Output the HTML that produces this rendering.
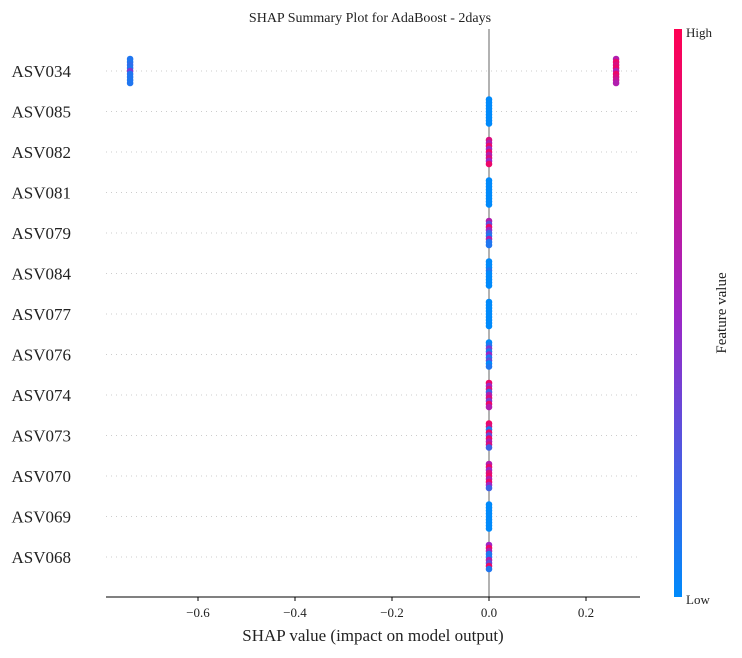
<!DOCTYPE html>
<html><head><meta charset="utf-8"><style>
body{margin:0;background:#fff;}
svg text{font-family:"Liberation Serif",serif;fill:#222;}
</style></head><body>
<svg id="chart" width="742" height="653">
<defs><linearGradient id="cg" x1="0" y1="1" x2="0" y2="0">
<stop offset="0" stop-color="#008afb"/><stop offset="0.5" stop-color="#9e26c5"/><stop offset="1" stop-color="#ff0052"/></linearGradient></defs>
<text x="370" y="22" text-anchor="middle" font-size="14">SHAP Summary Plot for AdaBoost - 2days</text>
<g id="grid"></g><g id="zero"></g><g id="pts"></g><g id="axis"></g>
<rect x="674" y="29" width="8" height="568" fill="url(#cg)"/>
<text x="686" y="37" font-size="13">High</text>
<text x="686" y="604" font-size="13">Low</text>
<text transform="translate(726,313) rotate(-90)" text-anchor="middle" font-size="15">Feature value</text>
<text x="373" y="641" text-anchor="middle" font-size="17">SHAP value (impact on model output)</text>
</svg>
<script>
const features=["ASV034","ASV085","ASV082","ASV081","ASV079","ASV084","ASV077","ASV076","ASV074","ASV073","ASV070","ASV069","ASV068"];
// each row: clusters of [shap value, feature values top-to-bottom]
const shapValues=[[-0.74,0.262],[0],[0],[0],[0],[0],[0],[0],[0],[0],[0],[0],[0]];
const featureValues=[
 [[0.1,0.1,0.15,0.1,0.4,0.1,0.1,0.1,0.1],[0.6,0.9,0.8,0.9,0.6,0.9,0.8,0.7,0.6]],
 [[0,0,0,0,0,0,0,0,0]],
 [[0.8,0.6,0.9,0.5,0.9,0.6,0.8,0.5,0.9]],
 [[0,0,0,0,0,0,0,0,0]],
 [[0.6,0.3,0.9,0.5,0.2,0.1,0.6,0.1,0.1]],
 [[0,0,0,0.1,0,0,0,0,0]],
 [[0,0,0,0,0,0,0,0,0]],
 [[0,0.1,0.4,0.1,0.5,0.1,0.3,0,0.1]],
 [[0.9,0.5,0.8,0.2,0.6,0.8,0.4,0.9,0.6]],
 [[0.9,0.8,0.1,0.9,0.3,0.9,0.6,0.8,0.2]],
 [[0.6,0.9,0.5,0.8,0.9,0.6,0.9,0.5,0.2]],
 [[0,0,0,0,0,0,0,0,0]],
 [[0.5,0.9,0.6,0.1,0.1,0.6,0.3,0.9,0.1]]
];
const xTicks=[-0.6,-0.4,-0.2,0,0.2];
const xTickLabels=["\u22120.6","\u22120.4","\u22120.2","0.0","0.2"];
const NS="http://www.w3.org/2000/svg";
const X=v=>489+v*485, Y=i=>71+i*40.5;
function col(t){const a=[0,138,251],m=[158,38,197],b=[255,0,82];let c=t<0.5?a.map((v,k)=>v+(m[k]-v)*t*2):m.map((v,k)=>v+(b[k]-v)*(t-0.5)*2);return `rgb(${c.map(Math.round)})`;}
function mk(tag,at,par){const e=document.createElementNS(NS,tag);for(const k in at)e.setAttribute(k,at[k]);document.getElementById(par).appendChild(e);return e;}
features.forEach((f,i)=>{
 let g=mk("line",{x1:106,x2:640,y1:Y(i),y2:Y(i),stroke:"#ccc","stroke-dasharray":"1,4","stroke-width":1},"grid");
 
 
 let t=mk("text",{x:71,y:Y(i)+6,"text-anchor":"end","font-size":17},"axis");t.textContent=f;
 
 
 shapValues[i].forEach((s,j)=>{
  const fv=featureValues[i][j];
  fv.forEach((v,k)=>{
   let c=mk("circle",{cx:X(s),cy:Y(i)-12+k*3,r:3.3,fill:col(v)},"pts");
   
   
  });
 });
});
let z=mk("line",{x1:X(0),x2:X(0),y1:29,y2:597,stroke:"#999","stroke-width":1.5},"zero");


let ax=mk("line",{x1:106,x2:640,y1:597,y2:597,stroke:"#000","stroke-width":1},"axis");


xTicks.forEach((v,i)=>{
 let tk=mk("line",{x1:X(v),x2:X(v),y1:597,y2:601,stroke:"#000"},"axis");
 
 
 let t=mk("text",{x:X(v),y:617,"text-anchor":"middle","font-size":13},"axis");t.textContent=xTickLabels[i];
 
 
});
</script>
</body></html>
